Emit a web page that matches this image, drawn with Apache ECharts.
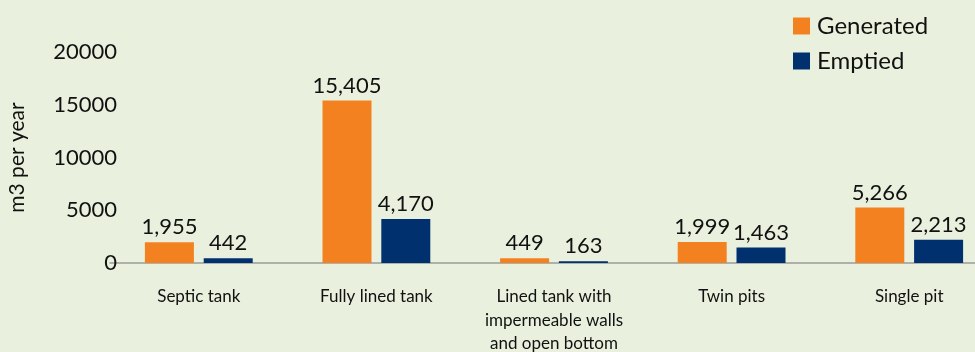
<!DOCTYPE html>
<html><head><meta charset="utf-8">
<script src="https://cdn.jsdelivr.net/npm/echarts@6/dist/echarts.min.js"></script>
<style>html,body{margin:0;padding:0;background:#e9f1de;}#c{width:975px;height:352px;}</style>
</head><body><div id="c"></div>
<script>
const categories = ["Septic tank", "Fully lined tank", "Lined tank with\nimpermeable walls\nand open bottom", "Twin pits", "Single pit"];
const generated = [1955, 15405, 449, 1999, 5266];
const emptied = [442, 4170, 163, 1463, 2213];
const yTicks = { min: 0, max: 20000, interval: 5000 };
const FONT = "Lato";
const chart = echarts.init(document.getElementById('c'));
const lbl = {
  show: true, position: 'top', distance: 4, color: '#111', fontSize: 22, fontFamily: FONT,
  formatter: p => p.value.toLocaleString('en-US')
};
chart.setOption({
  backgroundColor: '#e9f1de',
  animation: false,
  textStyle: { fontFamily: FONT },
  legend: {
    orient: 'vertical', left: 788, top: 9, itemWidth: 17, itemHeight: 17, itemGap: 11,
    icon: 'rect',
    textStyle: { fontSize: 24, color: '#111', fontFamily: FONT, padding: [0, 0, 0, 2] },
    data: ['Generated', 'Emptied']
  },
  grid: { left: 110, width: 888, top: 52, bottom: 89, outerBoundsMode: 'none', containLabel: false },
  xAxis: {
    type: 'category', data: categories,
    axisLine: { show: true, lineStyle: { color: '#9a9a9a', width: 1.5 } },
    axisTick: { show: false },
    axisLabel: { color: '#111', fontSize: 17, fontFamily: FONT, margin: 22, lineHeight: 23.5, interval: 0 }
  },
  yAxis: {
    type: 'value', min: yTicks.min, max: yTicks.max, interval: yTicks.interval,
    name: 'm3 per year', nameLocation: 'middle', nameGap: 82, nameRotate: 90,
    nameTextStyle: { fontSize: 21, color: '#111', fontFamily: FONT },
    axisLine: { show: false }, axisTick: { show: false }, splitLine: { show: false },
    axisLabel: { color: '#111', fontSize: 22, fontFamily: FONT, margin: -7, formatter: v => String(v) }
  },
  series: [
    { name: 'Generated', type: 'bar', data: generated, barWidth: 49, barGap: '20%',
      itemStyle: { color: '#f48120' }, label: lbl },
    { name: 'Emptied', type: 'bar', data: emptied, barWidth: 49,
      itemStyle: { color: '#00306e' }, label: lbl }
  ]
});
</script></body></html>
